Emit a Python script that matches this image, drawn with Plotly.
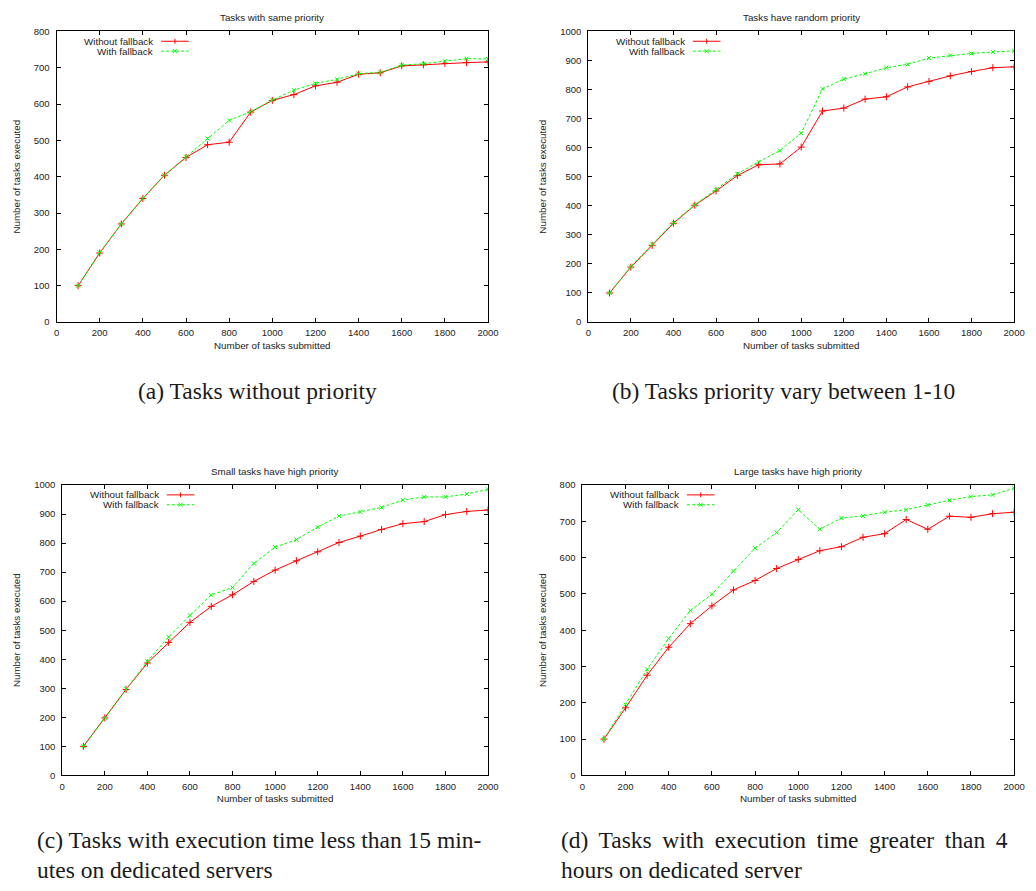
import plotly.graph_objects as go

W, H = 1036, 891

# ---------------- data ----------------
tasks_submitted = [100, 200, 300, 400, 500, 600, 700, 800, 900, 1000,
                   1100, 1200, 1300, 1400, 1500, 1600, 1700, 1800, 1900, 2000]

a_without = [100, 190, 270, 340, 404, 453, 488, 495, 578, 610,
             626, 650, 660, 682, 686, 705, 708, 712, 714, 716]
a_with = [100, 192, 270, 340, 404, 455, 505, 555, 579, 611,
          638, 657, 668, 684, 687, 707, 711, 718, 725, 724]

b_without = [100, 189, 264, 340, 402, 451, 504, 541, 544, 602,
             726, 736, 767, 775, 809, 828, 847, 862, 875, 878]
b_with = [100, 191, 267, 342, 403, 455, 510, 551, 590, 650,
          802, 836, 854, 875, 887, 908, 917, 924, 929, 933]

c_without = [100, 198, 296, 387, 458, 527, 582, 622, 668, 707,
             739, 770, 802, 824, 847, 867, 874, 898, 909, 914]
c_with = [100, 198, 298, 393, 476, 551, 621, 647, 730, 786,
          812, 855, 893, 907, 923, 948, 959, 959, 969, 985]

d_without = [100, 186, 276, 353, 418, 467, 511, 537, 570, 595,
             619, 630, 656, 666, 705, 678, 714, 711, 721, 725]
d_with = [100, 195, 292, 377, 454, 499, 563, 626, 669, 732,
          678, 709, 715, 725, 732, 745, 758, 768, 773, 791]

series_names = ["Without fallback", "With fallback"]
titles = ["Tasks with same priority", "Tasks have random priority",
          "Small tasks have high priority", "Large tasks have high priority"]
y_max = [800, 1000, 1000, 800]
x_label = "Number of tasks submitted"
y_label = "Number of tasks executed"

captions = [
    ["(a) Tasks without priority"],
    ["(b) Tasks priority vary between 1-10"],
    ["(c) Tasks with execution time less than 15 min-", "utes on dedicated servers"],
    ["(d)\u2009 Tasks\u2009 with\u2009 execution\u2009 time\u2009 greater\u2009 than\u2009 4",
     "hours on dedicated server"],
]

# ---------------- layout geometry (pixels) ----------------
boxes = [  # left, right, top, bottom
    (54.3, 491.7, 25.7, 320.0),
    (593.3, 1025.0, 25.7, 320.0),
    (60.0, 491.7, 485.0, 779.0),
    (587.3, 1025.0, 485.0, 779.0),
]
caption_pos = [  # x left, y center of first line
    (135, 390), (615, 390), (32, 844), (564, 844)
]
LINE_GAP = 31

RED = "#ff0000"
GREEN = "#00ff00"
SANS = "Liberation Sans, Arial, sans-serif"
SERIF = "Liberation Serif, Times New Roman, serif"


def px(x):
    return x / W


def py(y):
    return 1 - y / H


series = [(a_without, a_with), (b_without, b_with),
          (c_without, c_with), (d_without, d_with)]

fig = go.Figure()
annotations = []
shapes = []

for i, ((wo, wi), box) in enumerate(zip(series, boxes)):
    n = "" if i == 0 else str(i + 1)
    xref, yref = "x" + n, "y" + n
    l, r, t, b = box
    fig.add_trace(go.Scatter(
        x=tasks_submitted, y=wo, mode="lines+markers", name=series_names[0],
        xaxis=xref, yaxis=yref, showlegend=False,
        line=dict(color=RED, width=1),
        marker=dict(symbol="cross-thin", size=5, line=dict(color=RED, width=1))))
    fig.add_trace(go.Scatter(
        x=tasks_submitted, y=wi, mode="lines+markers", name=series_names[1],
        xaxis=xref, yaxis=yref, showlegend=False,
        line=dict(color=GREEN, width=1, dash="3px,2px"),
        marker=dict(symbol="x-thin", size=4, line=dict(color=GREEN, width=1))))

    axis_common = dict(
        showgrid=False, zeroline=False, showline=True, linecolor="black",
        linewidth=1, mirror="allticks", ticks="inside", ticklen=4,
        tickcolor="black", tickwidth=1,
        tickfont=dict(family=SANS, size=9.5, color="#222"),
    )
    fig.update_layout(**{
        "xaxis" + n: dict(
            axis_common, domain=[px(l), px(r)], anchor=yref, range=[0, 2000],
            dtick=200, tick0=0, ticklabelstandoff=2,
            title=dict(text=x_label, font=dict(family=SANS, size=9.8, color="#222"),
                       standoff=4)),
        "yaxis" + n: dict(
            axis_common, domain=[py(b), py(t)], anchor=xref, range=[0, y_max[i]],
            dtick=100, tick0=0, ticklabelstandoff=4,
            title=dict(text=y_label, font=dict(family=SANS, size=9.8, color="#222"),
                       standoff=11)),
    })

    # subplot title
    annotations.append(dict(
        text=titles[i], x=px((l + r) / 2), y=py(t - 14), xref="paper", yref="paper",
        showarrow=False, xanchor="center", yanchor="middle",
        font=dict(family=SANS, size=9.8, color="#222")))

    # gnuplot-style legend (text right, sample line on the right)
    for k, (name, col) in enumerate(zip(series_names, [RED, GREEN])):
        yy = t + 10 + 10 * k
        annotations.append(dict(
            text=name, x=px(l + 100), y=py(yy), xref="paper", yref="paper",
            showarrow=False, xanchor="right", yanchor="middle",
            font=dict(family=SANS, size=9.8, color="#222")))
        shapes.append(dict(
            type="line", xref="paper", yref="paper",
            x0=px(l + 106), x1=px(l + 134), y0=py(yy), y1=py(yy),
            line=dict(color=col, width=1, dash="solid" if k == 0 else "3px,2px")))
        cx = l + 120
        if k == 0:
            shapes.append(dict(type="line", xref="paper", yref="paper",
                               x0=px(cx), x1=px(cx), y0=py(yy - 2.5), y1=py(yy + 2.5),
                               line=dict(color=col, width=1)))
        else:
            shapes.append(dict(type="line", xref="paper", yref="paper",
                               x0=px(cx - 2), x1=px(cx + 2), y0=py(yy - 2), y1=py(yy + 2),
                               line=dict(color=col, width=1)))
            shapes.append(dict(type="line", xref="paper", yref="paper",
                               x0=px(cx - 2), x1=px(cx + 2), y0=py(yy + 2), y1=py(yy - 2),
                               line=dict(color=col, width=1)))

    # captions
    cxp, cyp = caption_pos[i]
    for j, line_text in enumerate(captions[i]):
        annotations.append(dict(
            text=line_text, x=px(cxp), y=py(cyp + LINE_GAP * j), xref="paper", yref="paper",
            showarrow=False, xanchor="left", yanchor="middle",
            font=dict(family=SERIF, size=23.5, color="#1a1a1a")))

fig.update_layout(
    width=W, height=H, autosize=False,
    margin=dict(l=0, r=0, t=0, b=0),
    paper_bgcolor="white", plot_bgcolor="white",
    showlegend=False,
    annotations=annotations, shapes=shapes,
)

fig.write_html("out.html",
               config={"displayModeBar": False, "staticPlot": True},
               post_script="document.body.style.margin='0';document.body.style.overflow='hidden';")
